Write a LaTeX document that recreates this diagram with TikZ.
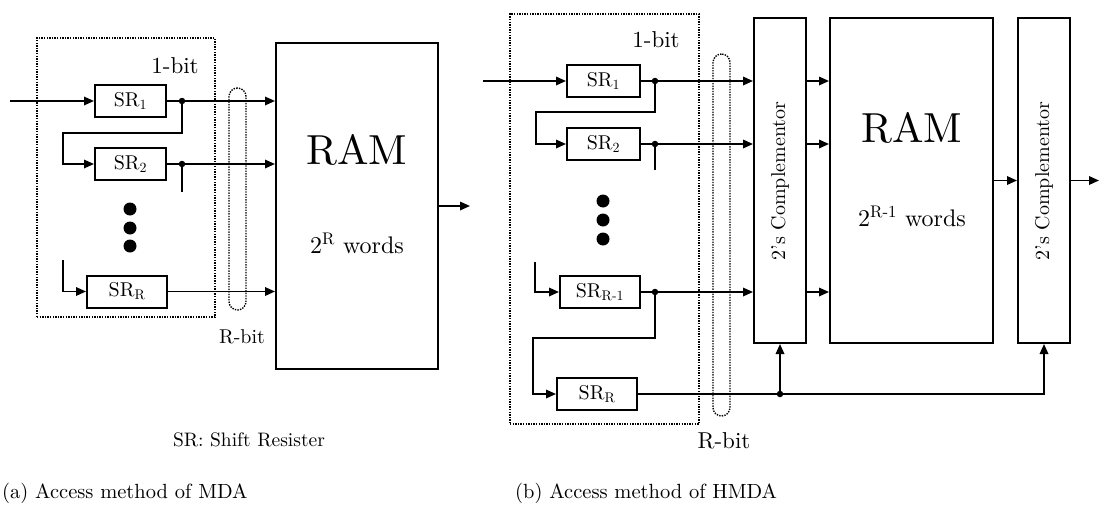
\documentclass[tikz,border=0pt]{standalone}
\usepackage{fontspec}
\setmainfont{lmroman10-regular.otf}
\usetikzlibrary{arrows.meta}
\begin{document}
\begin{tikzpicture}[x=1pt,y=-1pt,
  box/.style={draw,line width=2pt,inner sep=0pt,minimum height=32pt,font=\fontsize{20}{22}\selectfont},
  bigbox/.style={draw,line width=2pt,inner sep=0pt},
  wire/.style={line width=1.7pt},
  arr/.style={line width=1.7pt,-{Triangle[length=10pt,width=8.5pt]}},
  frame/.style={draw,line width=1.4pt,dash pattern=on 1.4pt off 1.2pt,inner sep=0pt},
  jdot/.style={circle,fill,inner sep=0pt,minimum size=6.5pt},
  bdot/.style={circle,fill,inner sep=0pt,minimum size=13pt},
  lbl/.style={inner sep=0pt,font=\fontsize{23}{26}\selectfont},
  lblsmall/.style={inner sep=0pt,font=\fontsize{20}{22}\selectfont},
  captxt/.style={inner sep=0pt,font=\fontsize{20.5}{23}\selectfont},
  legtxt/.style={inner sep=0pt,font=\fontsize{19.5}{22}\selectfont},
  bigt/.style={inner sep=0pt,font=\fontsize{42}{46}\selectfont},
  wordst/.style={inner sep=0pt,font=\fontsize{24}{27}\selectfont},
  compt/.style={inner sep=0pt,rotate=90,font=\fontsize{20}{22}\selectfont}
]
\useasboundingbox (0,0) rectangle (1099,519);

% ---------------- panel (a) ----------------
\node[frame,minimum width=178pt,minimum height=279pt] (boxA) at (126,177.5) {};
\node[box,minimum width=71pt] (srA1) at (130.5,101) {SR\textsubscript{1}};
\node[box,minimum width=71pt] (srA2) at (130.5,164) {SR\textsubscript{2}};
\node[box,minimum width=80pt] (srAR) at (127,291.5) {SR\textsubscript{R}};
\node[bigbox,minimum width=162pt,minimum height=326pt] (ramA) at (357,206) {};
\node[frame,rounded corners=8.5pt,minimum width=17pt,minimum height=222pt] (ovA) at (237.5,199) {};
\node[lbl] (bitA1) at (175,66) {1-bit};
\node[lblsmall] (bitAR) at (242,337) {R-bit};
\node[bigt] (ramAt) at (357,150) {RAM};
\node[wordst] (wordsA) at (357,243) {2\textsuperscript{R} words};
\node[legtxt] (legend) at (249,440) {SR: Shift Resister};
\node[captxt,anchor=west] (capA) at (2,493) {(a) Access method of MDA};

\coordinate (inA) at (10,101);
\draw[arr] (inA) -- (srA1.west);
\node[jdot] (jA1) at (182,101) {};
\draw[wire] (srA1.east) -- (jA1.center);
\draw[arr] (jA1.center) -- (jA1 -| ramA.west);
\draw[arr] (jA1.center) |- (63,133) |- (srA2.west);
\node[jdot] (jA2) at (182,164) {};
\draw[wire] (srA2.east) -- (jA2.center);
\draw[arr] (jA2.center) -- (jA2 -| ramA.west);
\draw[wire] (jA2.center) -- ++(0,28);
\node[bdot] (dA1) at (130,209) {};
\node[bdot] (dA2) at (130,228) {};
\node[bdot] (dA3) at (130,246) {};
\coordinate (fbAR) at (63,260);
\draw[arr] (fbAR) |- (srAR.west);
\draw[arr] (srAR.east) -- (srAR.east -| ramA.west);
\coordinate (outA) at (470,206);
\draw[arr] (ramA.east) -- (outA);

% ---------------- panel (b) ----------------
\node[frame,minimum width=189pt,minimum height=410pt] (boxB) at (604.5,219) {};
\node[box,minimum width=73pt] (srB1) at (603.5,81) {SR\textsubscript{1}};
\node[box,minimum width=73pt] (srB2) at (603.5,144) {SR\textsubscript{2}};
\node[box,minimum width=80pt] (srBR1) at (600,292) {SR\textsubscript{R-1}};
\node[box,minimum width=80pt] (srBR) at (597,394) {SR\textsubscript{R}};
\node[bigbox,minimum width=52pt,minimum height=325pt] (comp1) at (780,180.5) {};
\node[bigbox,minimum width=163pt,minimum height=325pt] (ramB) at (911.5,180.5) {};
\node[bigbox,minimum width=52pt,minimum height=325pt] (comp2) at (1044,180.5) {};
\node[frame,rounded corners=8.5pt,minimum width=17pt,minimum height=362pt] (ovB) at (721.5,235) {};
\node[compt] (comp1t) at (780,181) {2's Complementor};
\node[compt] (comp2t) at (1044,181) {2's Complementor};
\node[lbl] (bitB1) at (656,40) {1-bit};
\node[lbl] (bitBR) at (724,441) {R-bit};
\node[bigt] (ramBt) at (912,128) {RAM};
\node[wordst] (wordsB) at (912,216) {2\textsuperscript{R-1} words};
\node[captxt,anchor=west] (capB) at (515,493) {(b) Access method of HMDA};

\coordinate (inB) at (483,81);
\draw[arr] (inB) -- (srB1.west);
\node[jdot] (jB1) at (655,81) {};
\draw[wire] (srB1.east) -- (jB1.center);
\draw[arr] (jB1.center) -- (jB1 -| comp1.west);
\draw[arr] (jB1.center) |- (536,112) |- (srB2.west);
\node[jdot] (jB2) at (655,144) {};
\draw[wire] (srB2.east) -- (jB2.center);
\draw[arr] (jB2.center) -- (jB2 -| comp1.west);
\draw[wire] (jB2.center) -- ++(0,26);
\node[bdot] (dB1) at (603,201) {};
\node[bdot] (dB2) at (603,220) {};
\node[bdot] (dB3) at (603,239) {};
\coordinate (fbBR1) at (535,262);
\draw[arr] (fbBR1) |- (srBR1.west);
\node[jdot] (jBR1) at (655,292) {};
\draw[wire] (srBR1.east) -- (jBR1.center);
\draw[arr] (jBR1.center) -- (jBR1 -| comp1.west);
\draw[arr] (jBR1.center) |- (533,338) |- (srBR.west);
\draw[arr] (jB1 -| comp1.east) -- (jB1 -| ramB.west);
\draw[arr] (jB2 -| comp1.east) -- (jB2 -| ramB.west);
\draw[arr] (jBR1 -| comp1.east) -- (jBR1 -| ramB.west);
\draw[arr] (ramB.east) -- (comp2.west);
\coordinate (outB) at (1099,180.5);
\draw[arr] (comp2.east) -- (outB);
\node[jdot] (jBR) at (780,394) {};
\draw[wire] (srBR.east) -- (jBR.center);
\draw[arr] (jBR.center) -| (comp2.south);
\draw[arr] (jBR.center) -- (comp1.south);
\end{tikzpicture}
\end{document}
